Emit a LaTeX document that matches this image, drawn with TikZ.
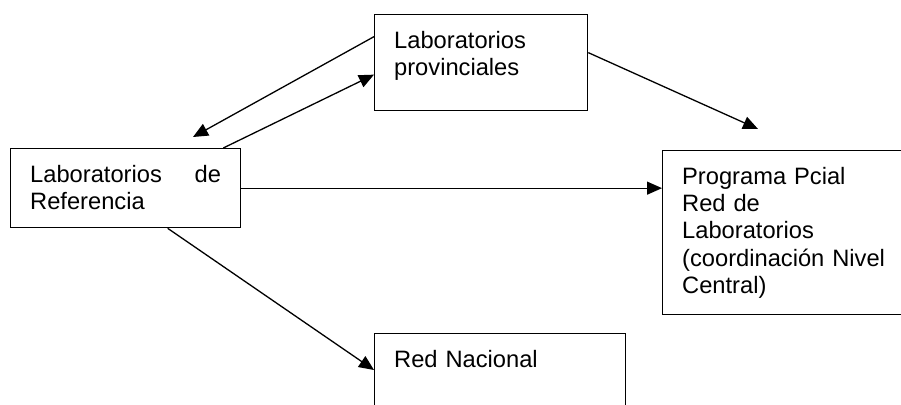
\documentclass[tikz,border=0pt]{standalone}
\usepackage{fontspec}
\setmainfont{Liberation Sans}
\usetikzlibrary{arrows.meta}
\tikzset{
  labbox/.style={draw=black, line width=1.3pt, anchor=north west,
        inner xsep=19.5pt, inner ysep=0pt, align=left,
        text height=33.5pt,
        font=\fontsize{23.7pt}{27.3pt}\selectfont},
  flow/.style={-{Triangle[length=15pt,width=13pt]}, line width=1.3pt, draw=black}
}

\begin{document}
\begin{tikzpicture}[x=1pt, y=-1pt]
\useasboundingbox (0,0) rectangle (901,404);
\node[labbox, text width=191pt, text depth=45.5pt] (refl) at (10,148) {Laboratorios\hfill de\\Referencia};
\node[labbox, text width=174pt, text depth=62.5pt] (prov) at (374,14) {Laboratorios\\provinciales};
\node[labbox, text width=212pt, text depth=130.5pt] (prog) at (662,150) {Programa Pcial\\Red de\\Laboratorios\\(coordinación Nivel\\Central)};
\node[labbox, text width=212pt, text depth=66.5pt] (red) at (374,333) {Red Nacional};

\coordinate (refIn) at (193,137);
\coordinate (progIn) at (758,129);

\draw[flow] ([yshift=26pt]prov.west) -- (refIn);
\draw[flow] ([xshift=-18pt]refl.north east) -- ([yshift=-12pt]prov.west);
\draw[flow] ([yshift=10pt]prov.east) -- (progIn);
\draw[flow] (refl.east) -- (refl.east -| prog.west);
\draw[flow] ([xshift=42pt]refl.south) -- ([yshift=-37pt]red.north west);
\end{tikzpicture}
\end{document}
